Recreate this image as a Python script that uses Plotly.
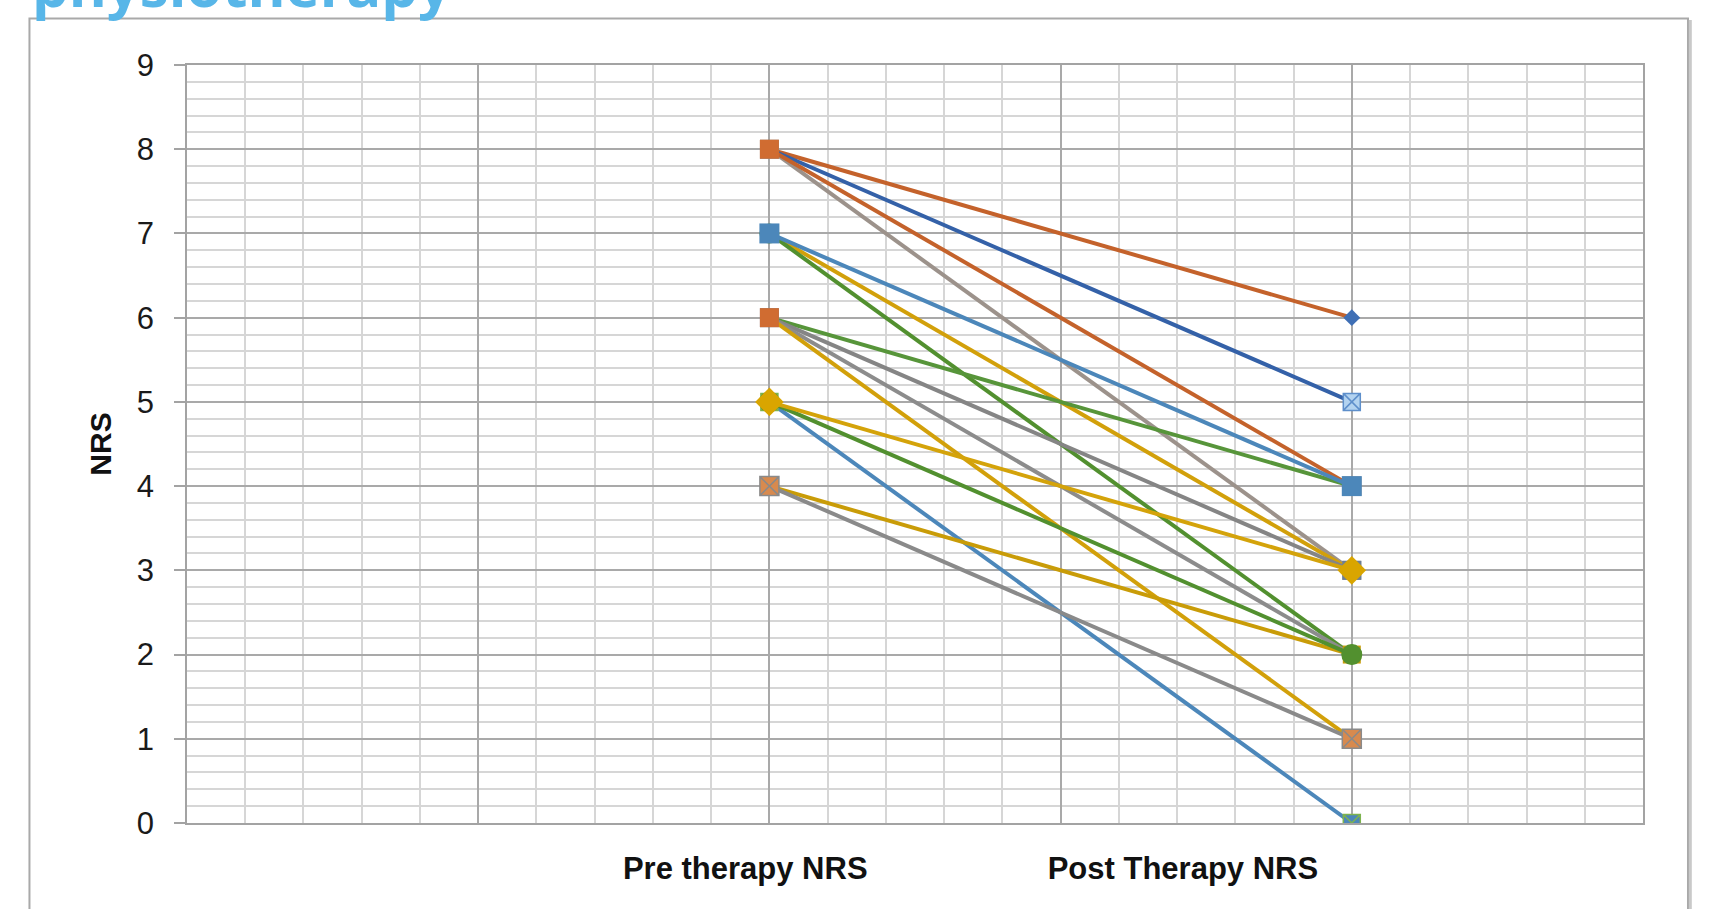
import plotly.graph_objects as go

# ---------------- data ----------------
categories = ["Pre therapy NRS", "Post Therapy NRS"]
pre_nrs = [8, 8, 8, 8, 7, 7, 7, 6, 6, 6, 6, 5, 5, 5, 4, 4]
post_nrs = [6, 5, 4, 3, 4, 3, 2, 4, 3, 2, 1, 3, 2, 0, 2, 1]
y_tick_values = [0, 1, 2, 3, 4, 5, 6, 7, 8, 9]
chart_title = "physiotherapy"
y_title = "NRS"

# ---------------- styles ----------------
category_x = [2, 4]          # where the two categories sit on the numeric x axis
label_x = [1.917, 3.42]      # where the category labels are written
line_colors = ["#C4622B", "#3461A8", "#C4622B", "#9C928B",
               "#4C87BA", "#D2A00A", "#52902F",
               "#57953A", "#858585", "#8C8C8C", "#D2A00A",
               "#D4A30A", "#52902F", "#4C87BA", "#C99C08", "#8A8A8A"]
marker_symbols = ["diamond", "square-x", "square", "square",
                  "square", "diamond", "circle",
                  "triangle-up", "square", "x", "square",
                  "diamond", "circle", "square-x", "square", "square-x"]
marker_colors = ["#3F6FB5", "#B3D3F0", "#D06C31", "#8C8C8C",
                 "#4C87BA", "#D2A00A", "#52902F",
                 "#6FAA48", "#6D7F95", "#8C8C8C", "#D06C31",
                 "#D9A500", "#52902F", "#4C87BA", "#C99C08", "#D88A4E"]
marker_line_colors = ["#3F6FB5", "#5E8FCB", "#D06C31", "#8C8C8C",
                      "#4C87BA", "#D2A00A", "#52902F",
                      "#6FAA48", "#6D7F95", "#8C8C8C", "#D06C31",
                      "#D9A500", "#52902F", "#7DB34F", "#C99C08", "#8A8A8A"]
marker_sizes = [13, 17, 19, 19, 20, 15, 20, 13, 19, 13, 19, 22, 21, 17, 18, 19]
draw_order = [0, 1, 3, 2, 5, 6, 7, 8, 9, 4, 10, 13, 14, 15, 12, 11]

fig = go.Figure()
for i in draw_order:
    fig.add_trace(go.Scatter(
        x=category_x, y=[pre_nrs[i], post_nrs[i]],
        mode="lines+markers",
        line=dict(color=line_colors[i], width=4),
        marker=dict(symbol=marker_symbols[i], size=marker_sizes[i],
                    color=marker_colors[i],
                    line=dict(width=1.5 if "x" in marker_symbols[i] else 0,
                              color=marker_line_colors[i])),
        showlegend=False, hoverinfo="skip"))

# invisible trace to register the label axis
fig.add_trace(go.Scatter(x=[], y=[], xaxis="x2", showlegend=False, hoverinfo="skip"))

major_grid = "#A9A9A9"
minor_grid = "#D6D6D6"

fig.update_layout(
    width=1711, height=909,
    margin=dict(l=187, r=68, t=65, b=86),
    paper_bgcolor="white", plot_bgcolor="white",
    xaxis=dict(range=[0, 5], tick0=0, dtick=1, showgrid=True, gridcolor=major_grid,
               gridwidth=1.5, showticklabels=False, zeroline=False, ticks="",
               showline=True, linecolor="#A3A3A3", linewidth=1.5, mirror=True,
               minor=dict(dtick=0.2, tick0=0, showgrid=True, gridcolor=minor_grid,
                          gridwidth=1.5)),
    xaxis2=dict(range=[0, 5], overlaying="x", anchor="y", side="bottom",
                tickmode="array", tickvals=label_x, ticktext=categories,
                showgrid=False, zeroline=False, showline=False, ticks="",
                ticklabelstandoff=24,
                tickfont=dict(family="Liberation Sans Narrow, Liberation Sans, Arial",
                              size=31, color="#111111", weight="bold")),
    yaxis=dict(range=[0, 9], tickmode="array", tickvals=y_tick_values,
               showgrid=True, gridcolor=major_grid, gridwidth=1.5, zeroline=False,
               ticks="outside", ticklen=11, tickcolor="#A3A3A3", tickwidth=1.5,
               ticklabelstandoff=14,
               showline=True, linecolor="#A3A3A3", linewidth=1.5, mirror=True,
               tickfont=dict(family="Liberation Sans, Arial", size=31, color="#1A1A1A"),
               title=dict(text=y_title, standoff=16,
                          font=dict(family="Liberation Sans Narrow, Liberation Sans, Arial",
                                    size=30, color="#111111", weight="bold")),
               minor=dict(dtick=0.2, tick0=0, showgrid=True, gridcolor=minor_grid,
                          gridwidth=1.5)),
    shapes=[
        dict(type="rect", xref="paper", yref="paper", x0=-0.1082, x1=1.0309,
             y0=-0.25, y1=1.0613, line=dict(color="#A9A9A9", width=2),
             fillcolor="rgba(0,0,0,0)", layer="below"),
        dict(type="line", xref="paper", yref="paper", x0=1.0325, x1=1.0325,
             y0=-0.25, y1=1.0595, line=dict(color="#C9C9C9", width=3)),
    ],
    annotations=[
        dict(text=chart_title, xref="paper", yref="paper", x=-0.1075, y=1.0514,
             xanchor="left", yanchor="bottom", showarrow=False,
             font=dict(family="Open Sans, Lato, sans-serif", size=58,
                       color="#58B6E8", weight="bold")),
    ],
)

fig.write_html("out.html", config={"displayModeBar": False},
               post_script="document.body.style.margin='0';")
